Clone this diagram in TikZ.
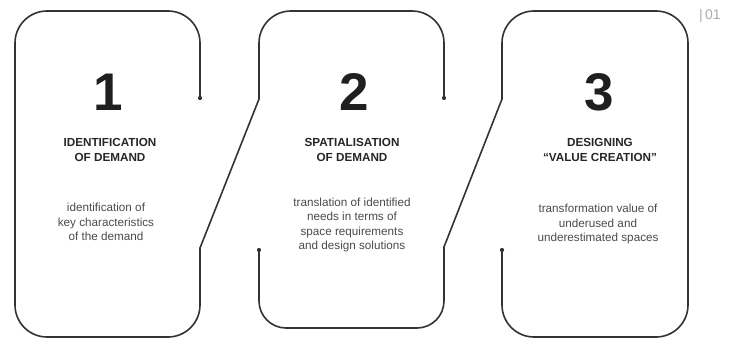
\documentclass[tikz,border=0pt]{standalone}
\usepackage{fontspec}
\setmainfont{Liberation Sans}
\usetikzlibrary{calc}
\definecolor{linegray}{HTML}{333333}
\definecolor{textgray}{HTML}{4A4A4A}
\definecolor{pagegray}{HTML}{ABABAB}
\tikzstyle{outline}=[draw=linegray, line width=1.6pt, rounded corners=32pt, line cap=round, line join=round]
\tikzstyle{bigno}=[font=\fontsize{53}{53}\selectfont\bfseries, text=black!88]
\tikzstyle{head}=[font=\fontsize{11.7}{15}\selectfont\bfseries, align=center, text=black!85]
\tikzstyle{desc}=[font=\fontsize{11.7}{14.5}\selectfont, align=center, text=textgray]
\tikzstyle{enddot}=[circle, fill=linegray, inner sep=0pt, minimum size=4.2pt]

\begin{document}
\begin{tikzpicture}[x=1pt,y=-1pt]
		\useasboundingbox (0,0) rectangle (734,339);
		%\draw[help lines, step=50] (0,0) grid (734,339);
		\node[enddot] (dot1) at (200,98) {};%open ends
		\node[enddot] (dot2) at (444,98) {};
		\node[enddot] (dot3) at (259,250) {};
		\node[enddot] (dot4) at (502,250) {};
		\coordinate (bend1) at (200,248);%bends
		\coordinate (top2) at (259,99);
		\coordinate (bend2) at (444,247);
		\coordinate (top3) at (502,99);
		
		\draw[outline] (dot1.center) -- (200,11) -- (15,11) -- (15,337) -- (200,337) -- (bend1);%first box
		\draw[outline] (bend1) -- (top2);
		\draw[outline] (top2) -- (259,11) -- (444,11) -- (dot2.center);%second box
		\draw[outline, rounded corners=27pt] (dot3.center) -- (259,328) -- (444,328) -- (bend2);
		\draw[outline] (bend2) -- (top3);
		\draw[outline] (top3) -- (502,11) -- (688,11) -- (688,337) -- (502,337) -- (dot4.center);%third box
		
		\node[bigno] (no1) at (108,92) {1};
		\node[bigno] (no2) at (354,92) {2};
		\node[bigno] (no3) at (599,92) {3};
		
		\node[head] (head1) at (110,150) {IDENTIFICATION\\OF DEMAND};
		\node[head] (head2) at (352,150) {SPATIALISATION\\OF DEMAND};
		\node[head] (head3) at (600,150) {DESIGNING\\``VALUE CREATION''};
		
		\node[desc] (desc1) at (106,222) {identification of\\key characteristics\\of the demand};
		\node[desc] (desc2) at (352,225) {translation of identified\\needs in terms of\\space requirements\\and design solutions};
		\node[desc] (desc3) at (598,224) {transformation value of\\underused and\\underestimated spaces};
		
		\node[text=pagegray, font=\fontsize{14}{14}\selectfont] (page) at (710,16) {|\,01};
\end{tikzpicture}
\end{document}
